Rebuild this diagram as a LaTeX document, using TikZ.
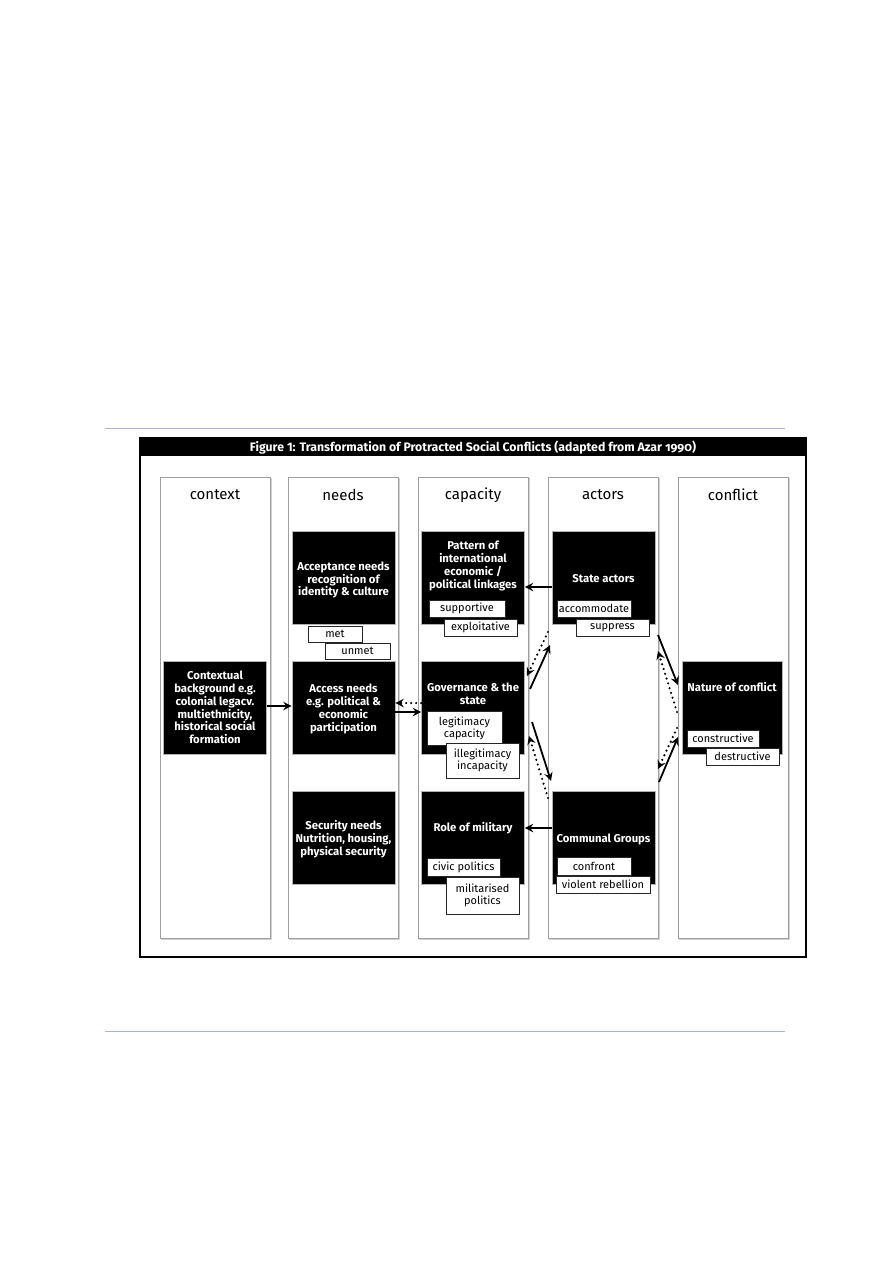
\documentclass[tikz,border=0pt]{standalone}
\usepackage{fontspec}
\setmainfont{Fira Sans}
\usetikzlibrary{arrows.meta,calc}
\definecolor{pageline}{RGB}{165,180,210}
\begin{document}
\begin{tikzpicture}[x=1pt,y=-1pt,
  column/.style={draw=gray!75, line width=0.8pt, minimum width=110, minimum height=461, inner sep=0},
  head/.style={font=\fontsize{15}{17}\selectfont},
  blackbox/.style={fill=black, draw=gray!60, line width=0.6pt, minimum width=103, minimum height=93, inner sep=0},
  boxtext/.style={text=white, font=\bfseries\fontsize{11.3}{12.7}\selectfont, align=center, inner sep=0},
  lab/.style={fill=white, draw=black!85, line width=0.6pt, font=\fontsize{11}{12}\selectfont, align=center, inner sep=0, minimum height=17},
  arr/.style={line width=1.8pt, -{Stealth[length=8.5pt,width=8.5pt,inset=3pt]}},
  dotarr/.style={line width=2.4pt, line cap=round, dash pattern=on 0pt off 5pt, -{Stealth[length=8.5pt,width=8.5pt,inset=3pt]}}
]
\useasboundingbox[fill=white] (0,0) rectangle (893,1263);
% page rules
\draw[pageline, line width=0.8pt] (105,428) -- (785,428);
\draw[pageline, line width=0.8pt] (105,1031) -- (785,1031);
% frame and title
\fill[black] (140,438) rectangle (806,456);
\draw[line width=2pt] (140,438) rectangle (806,957);
\node[text=white, font=\bfseries\fontsize{12.3}{14}\selectfont, inner sep=0] (title) at (473,447.5) {Figure 1: Transformation of Protracted Social Conflicts (adapted from Azar {\addfontfeatures{Numbers=OldStyle}1990})};
% columns
\foreach \n/\x in {c1/215, c2/343, c3/473, c4/603, c5/733} {
  \draw[gray!35, line width=0.8pt] (\x-54,939.5) -- (\x+56,939.5) -- (\x+56,478);
  \node[column] (\n) at (\x,707.5) {};
}
\node[head] (h1) at (215,495) {context};
\node[head] (h2) at (343,495) {needs};
\node[head] (h3) at (473,495) {capacity};
\node[head] (h4) at (603,495) {actors};
\node[head] (h5) at (733,495) {conflict};
% black boxes
\node[blackbox] (acc) at (343.5,577.5) {};
\node[blackbox] (pat) at (473,577.5) {};
\node[blackbox] (sta) at (603.5,577.5) {};
\node[blackbox] (ctx) at (215,707.5) {};
\node[blackbox] (accn) at (343.5,707.5) {};
\node[blackbox] (gov) at (473,707.5) {};
\node[blackbox, minimum width=100] (nat) at (732,707.5) {};
\node[blackbox] (sec) at (343.5,837.5) {};
\node[blackbox] (mil) at (473,837.5) {};
\node[blackbox] (com) at (603.5,837.5) {};
% box texts
\node[boxtext] (accT) at (343.5,580) {Acceptance needs\\recognition of\\identity \& culture};
\node[boxtext] (patT) at (473,566) {Pattern of\\international\\economic /\\political linkages};
\node[boxtext] (staT) at (603.5,579) {State actors};
\node[boxtext] (ctxT) at (215,707.5) {Contextual\\background e.g.\\colonial legacv.\\multiethnicity,\\historical social\\formation};
\node[boxtext] (accnT) at (343.5,709) {Access needs\\e.g. political \&\\economic\\participation};
\node[boxtext] (govT) at (473,693.5) {Governance \& the\\state};
\node[boxtext] (natT) at (732,687) {Nature of conflict};
\node[boxtext] (secT) at (343.5,839) {Security needs\\Nutrition, housing,\\physical security};
\node[boxtext] (milT) at (473,828) {Role of military};
\node[boxtext] (comT) at (603.5,839) {Communal Groups};
% labels
\node[lab, minimum width=54, minimum height=16] (met) at (335,634) {met};
\node[lab, minimum width=65, minimum height=16] (unmet) at (357.5,651) {unmet};
\node[lab, minimum width=76] (sup) at (467,608.5) {supportive};
\node[lab, minimum width=73] (exp) at (480.5,627.5) {exploitative};
\node[lab, minimum width=74] (acco) at (594,608.5) {accommodate};
\node[lab, minimum width=73] (supp) at (612.5,627.5) {suppress};
\node[lab, minimum width=75, minimum height=34] (leg) at (464.5,728) {legitimacy\\capacity};
\node[lab, minimum width=73, minimum height=35] (ileg) at (482.5,760.5) {illegitimacy\\incapacity};
\node[lab, minimum width=72] (cons) at (723,738.5) {constructive};
\node[lab, minimum width=73] (dest) at (742.5,756.5) {destructive};
\node[lab, minimum width=73, minimum height=18] (civ) at (463.5,867) {civic politics};
\node[lab, minimum width=73, minimum height=37] (milp) at (482.5,895.5) {militarised\\politics};
\node[lab, minimum width=74, minimum height=18] (conf) at (594,866) {confront};
\node[lab, minimum width=94] (viol) at (603,884.5) {violent rebellion};
% horizontal arrows
\draw[arr] ([yshift=1.5pt]ctx.east) -- ([yshift=1.5pt]accn.west);
\draw[arr] ([yshift=-4.5pt]accn.east) -- ([yshift=-4.5pt]gov.west);
\draw[dotarr] ([yshift=4.5pt]gov.west) -- ([yshift=4.5pt]accn.east);
\draw[arr] ([yshift=-9.5pt]sta.west) -- ([yshift=-9.5pt]pat.east);
\draw[arr] ([yshift=9.5pt]com.west) -- ([yshift=9.5pt]mil.east);
% diagonal arrows
\coordinate (g1s) at (530,689);
\coordinate (g1e) at (550,645);
\coordinate (d1s) at (548,632);
\coordinate (d1e) at (527,676);
\coordinate (g2s) at (532,722);
\coordinate (g2e) at (551,781);
\coordinate (d2s) at (548,798);
\coordinate (d2e) at (529,736);
\coordinate (s1s) at (658,635);
\coordinate (s1e) at (678,685);
\coordinate (n1s) at (677,712);
\coordinate (n1e) at (658,651);
\coordinate (n2s) at (677,728);
\coordinate (n2e) at (658,769);
\coordinate (s2s) at (659,782);
\coordinate (s2e) at (678,737);
\draw[arr] (g1s) -- (g1e);
\draw[dotarr] (d1s) -- (d1e);
\draw[arr] (g2s) -- (g2e);
\draw[dotarr] (d2s) -- (d2e);
\draw[arr] (s1s) -- (s1e);
\draw[dotarr] (n1s) -- (n1e);
\draw[dotarr] (n2s) -- (n2e);
\draw[arr] (s2s) -- (s2e);
\end{tikzpicture}
\end{document}
